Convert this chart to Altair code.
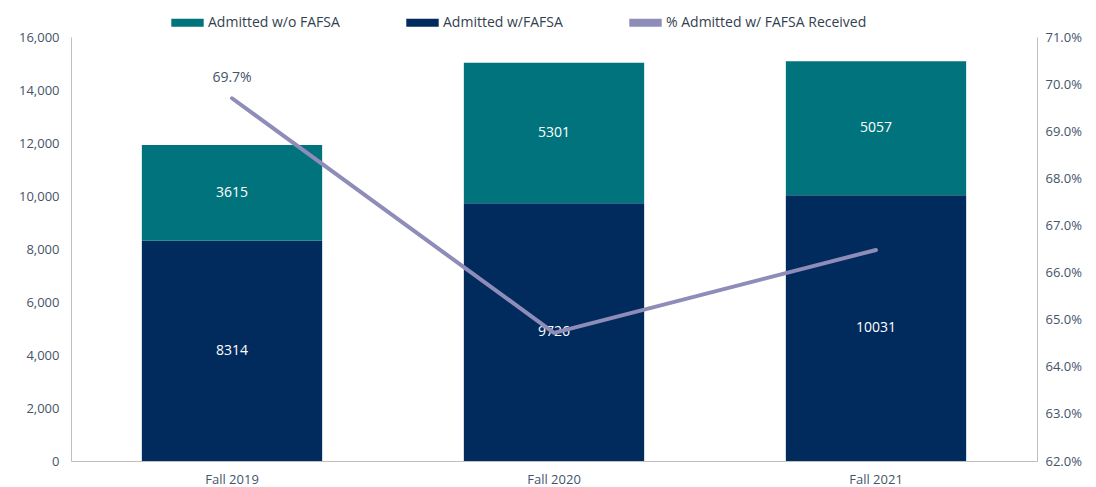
import altair as alt
import pandas as pd

years = ["Fall 2019", "Fall 2020", "Fall 2021"]
with_fafsa = [8314, 9726, 10031]
without_fafsa = [3615, 5301, 5057]
pct_with = [0.697, 0.6472, 0.6648]
pct_labels = ["69.7%", "", ""]

series = ["Admitted w/o FAFSA", "Admitted w/FAFSA", "% Admitted w/ FAFSA Received"]
colors = ["#00737C", "#002B5C", "#8E8CB8"]

rows = []
for i, y in enumerate(years):
    rows.append({"year": y, "series": series[1], "value": with_fafsa[i], "ord": 0})
    rows.append({"year": y, "series": series[0], "value": without_fafsa[i], "ord": 1})
bars_df = pd.DataFrame(rows)
line_df = pd.DataFrame({"year": years, "pct": pct_with, "label": pct_labels,
                        "series": [series[2]] * 3})

FONT = "Open Sans"
LABEL_COLOR = "#44546A"

x = alt.X("year:N", sort=years, title=None,
          scale=alt.Scale(paddingInner=0.44, paddingOuter=0.22),
          axis=alt.Axis(labelAngle=0, ticks=False, domainColor="#BFBFBF",
                        labelPadding=12, labelFontSize=13, labelColor=LABEL_COLOR))

color = alt.Color("series:N",
                  scale=alt.Scale(domain=series, range=colors),
                  legend=alt.Legend(title=None, orient="none", direction="horizontal",
                                    legendX=100, legendY=-31, columnPadding=66,
                                    symbolType="M-1,-0.25H1V0.25H-1Z", symbolSize=1050,
                                    symbolStrokeWidth=0, labelFontSize=14,
                                    labelColor="#333F50", labelFont=FONT,
                                    labelLimit=400, symbolOpacity=1))

base_bars = alt.Chart(bars_df).transform_stack(
    stack="value", groupby=["year"], as_=["y0", "y1"],
    sort=[alt.SortField("ord", order="ascending")]
).transform_calculate(mid="(datum.y0 + datum.y1) / 2")

left_axis = alt.Axis(values=list(range(0, 16001, 2000)), format=",.0f", ticks=False,
                     grid=False, domainColor="#BFBFBF", labelPadding=12,
                     labelFontSize=13, labelColor=LABEL_COLOR)
left_scale = alt.Scale(domain=[0, 16000], nice=False)

bars = base_bars.mark_bar(opacity=1).encode(
    x=x, y=alt.Y("y0:Q", title=None, scale=left_scale, axis=left_axis),
    y2="y1:Q", color=color)

bar_text = base_bars.mark_text(color="white", fontSize=14, font=FONT).encode(
    x=alt.X("year:N", sort=years),
    y=alt.Y("mid:Q", title=None, scale=left_scale, axis=left_axis),
    text=alt.Text("value:Q", format="d"))

left = alt.layer(bars, bar_text)

yright = alt.Y("pct:Q", title=None,
               scale=alt.Scale(domain=[0.62, 0.71], nice=False, zero=False),
               axis=alt.Axis(orient="right", values=[0.62 + 0.01 * k for k in range(10)],
                             format=".1%", ticks=False, grid=False, domainColor="#BFBFBF",
                             labelPadding=8, labelFontSize=13, labelColor=LABEL_COLOR))

line = alt.Chart(line_df).mark_line(strokeWidth=4, strokeCap="round",
                                    strokeJoin="round").encode(
    x=alt.X("year:N", sort=years), y=yright, color=color)

line_text = alt.Chart(line_df).mark_text(dy=-20, fontSize=14, font=FONT,
                                         color="#44546A").encode(
    x=alt.X("year:N", sort=years), y=yright, text="label:N")

right = alt.layer(line, line_text)

chart = alt.layer(left, right).resolve_scale(y="independent").properties(
    width=966, height=424,
    autosize=alt.AutoSizeParams(type="none"),
    padding={"left": 71, "top": 37, "right": 59, "bottom": 26},
).configure_view(stroke=None).configure_axis(labelFont=FONT)

chart.save("out.html", embed_options={"renderer": "svg", "actions": False})
